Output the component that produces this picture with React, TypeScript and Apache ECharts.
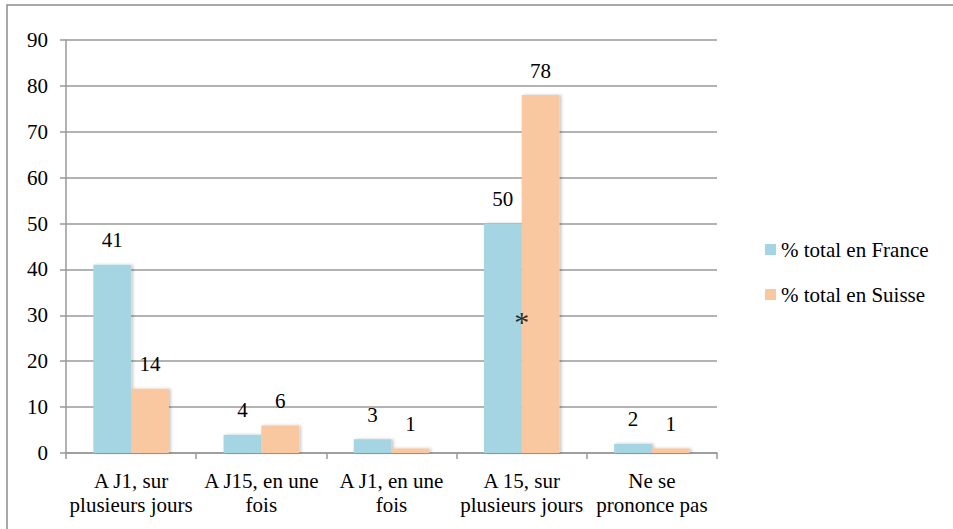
import React, { useEffect, useRef } from "react";
import * as echarts from "echarts";

const categories = [
  "A J1, sur\nplusieurs jours",
  "A J15, en une\nfois",
  "A J1, en une\nfois",
  "A 15, sur\nplusieurs jours",
  "Ne se\nprononce pas",
];
const franceValues = [41, 4, 3, 50, 2];
const suisseValues = [14, 6, 1, 78, 1];
const seriesNames = ["% total en France", "% total en Suisse"];
const yTicks = { min: 0, max: 90, interval: 10 };
const annotationPoints: [number, number][] = [[3, 29.6]];
const annotationText = "*";

const FONT = "Liberation Serif";

export default function App() {
  const ref = useRef<HTMLDivElement>(null);
  useEffect(() => {
    document.body.style.margin = "0";
    const chart = echarts.init(ref.current!, undefined, { renderer: "svg" });
    const barShadow = {
      shadowColor: "rgba(0,0,0,0.22)",
      shadowBlur: 3,
      shadowOffsetX: 2,
      shadowOffsetY: 0,
    };
    const labelStyle = {
      show: true,
      position: "top" as const,
      distance: 14,
      color: "#000",
      fontFamily: FONT,
      fontSize: 21,
    };
    chart.setOption({
      animation: false,
      backgroundColor: "#fff",
      textStyle: { fontFamily: FONT },
      graphic: [
        {
          type: "rect",
          shape: { x: 7, y: 5, width: 1000, height: 600 },
          style: { fill: "none", stroke: "#8c8c8c", lineWidth: 1.5 },
          silent: true,
          z: 0,
        },
      ],
      grid: { left: 66, right: 236, top: 40, bottom: 76, containLabel: false },
      legend: {
        orient: "vertical",
        left: 765,
        top: 239,
        padding: 0,
        itemWidth: 11,
        itemHeight: 11,
        itemGap: 24,
        icon: "rect",
        data: seriesNames,
        textStyle: { fontFamily: FONT, fontSize: 21, color: "#000" },
      },
      xAxis: {
        type: "category",
        data: categories,
        axisLine: { show: true, lineStyle: { color: "#999", width: 1.5 } },
        axisTick: { show: true, length: 6, alignWithLabel: false, lineStyle: { color: "#999", width: 1.5 } },
        axisLabel: {
          interval: 0,
          margin: 16,
          color: "#000",
          fontFamily: FONT,
          fontSize: 21,
          lineHeight: 24,
        },
      },
      yAxis: {
        type: "value",
        min: yTicks.min,
        max: yTicks.max,
        interval: yTicks.interval,
        axisLine: { show: true, lineStyle: { color: "#999", width: 1.5 } },
        axisTick: { show: true, length: 6, lineStyle: { color: "#999", width: 1.5 } },
        splitLine: { show: true, lineStyle: { color: "#9a9a9a", width: 1.5 } },
        axisLabel: { margin: 18, color: "#000", fontFamily: FONT, fontSize: 21 },
      },
      series: [
        {
          name: seriesNames[0],
          type: "bar",
          data: franceValues,
          barGap: "0%",
          barCategoryGap: "42%",
          itemStyle: { color: "#a5d5e2", ...barShadow },
          label: labelStyle,
        },
        {
          name: seriesNames[1],
          type: "bar",
          data: suisseValues,
          barGap: "0%",
          barCategoryGap: "42%",
          itemStyle: { color: "#f9c8a0", ...barShadow },
          label: labelStyle,
        },
        {
          name: "annotation",
          type: "scatter",
          data: annotationPoints,
          symbolSize: 1,
          itemStyle: { color: "rgba(0,0,0,0)" },
          label: {
            show: true,
            position: "inside",
            formatter: annotationText,
            color: "#000",
            fontFamily: FONT,
            fontSize: 30,
            offset: [0, 4],
          },
          z: 10,
        },
      ],
    });
    return () => chart.dispose();
  }, []);
  return <div ref={ref} style={{ width: 953, height: 529 }} />;
}
